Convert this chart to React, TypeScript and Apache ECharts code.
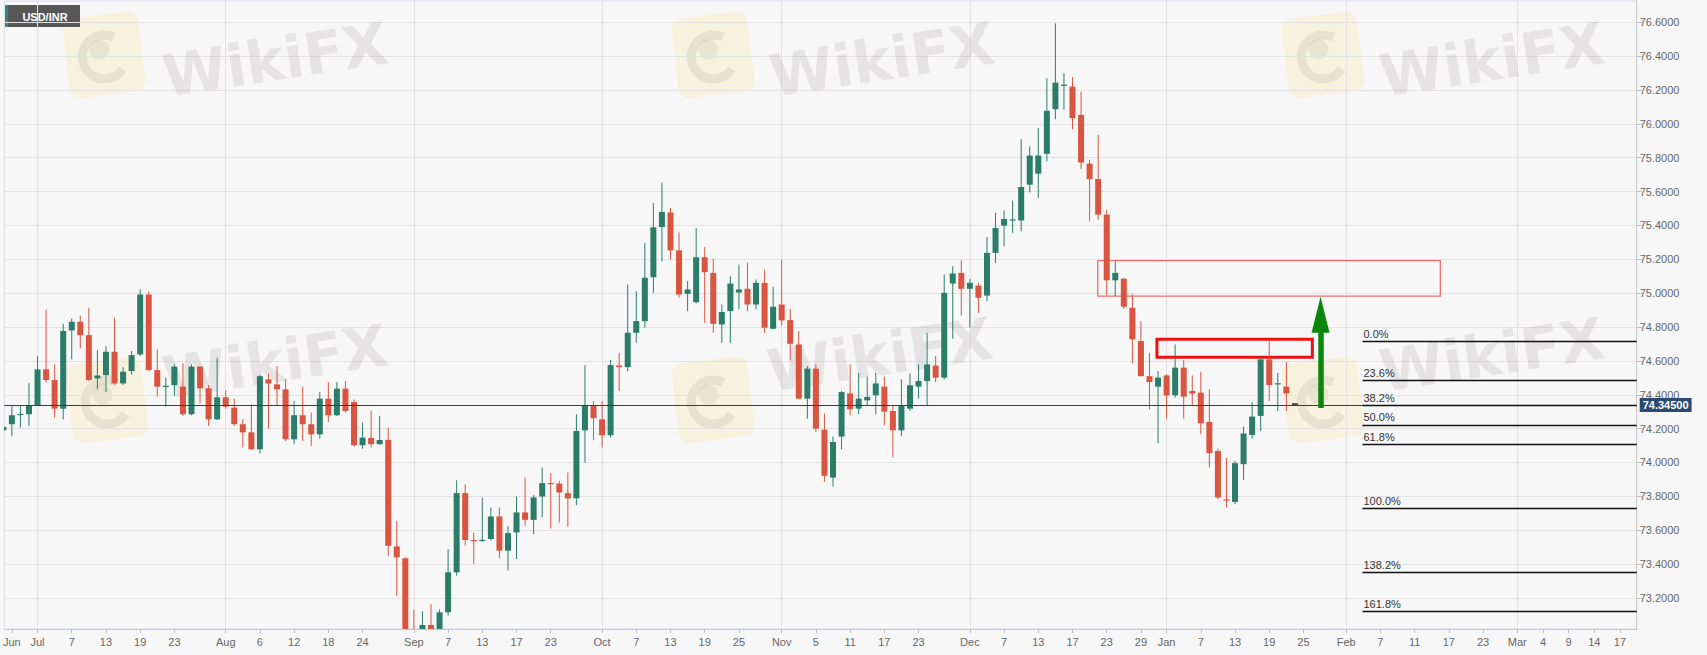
import React, { useEffect, useRef } from 'react';
import * as echarts from 'echarts';

// ---- categories (trading days) ----
const DATES = [
  '2021-06-25', '2021-06-28', '2021-06-29', '2021-06-30',
  '2021-07-01', '2021-07-02', '2021-07-05', '2021-07-06', '2021-07-07', '2021-07-08', '2021-07-09', '2021-07-12', '2021-07-13', '2021-07-14', '2021-07-15', '2021-07-16', '2021-07-19', '2021-07-20', '2021-07-21', '2021-07-22', '2021-07-23', '2021-07-26', '2021-07-27', '2021-07-28', '2021-07-29', '2021-07-30',
  '2021-08-02', '2021-08-03', '2021-08-04', '2021-08-05', '2021-08-06', '2021-08-09', '2021-08-10', '2021-08-11', '2021-08-12', '2021-08-13', '2021-08-16', '2021-08-17', '2021-08-18', '2021-08-19', '2021-08-20', '2021-08-23', '2021-08-24', '2021-08-25', '2021-08-26', '2021-08-27', '2021-08-30', '2021-08-31',
  '2021-09-01', '2021-09-02', '2021-09-03', '2021-09-06', '2021-09-07', '2021-09-08', '2021-09-09', '2021-09-10', '2021-09-13', '2021-09-14', '2021-09-15', '2021-09-16', '2021-09-17', '2021-09-20', '2021-09-21', '2021-09-22', '2021-09-23', '2021-09-24', '2021-09-27', '2021-09-28', '2021-09-29', '2021-09-30',
  '2021-10-01', '2021-10-04', '2021-10-05', '2021-10-06', '2021-10-07', '2021-10-08', '2021-10-11', '2021-10-12', '2021-10-13', '2021-10-14', '2021-10-15', '2021-10-18', '2021-10-19', '2021-10-20', '2021-10-21', '2021-10-22', '2021-10-25', '2021-10-26', '2021-10-27', '2021-10-28', '2021-10-29',
  '2021-11-01', '2021-11-02', '2021-11-03', '2021-11-04', '2021-11-05', '2021-11-08', '2021-11-09', '2021-11-10', '2021-11-11', '2021-11-12', '2021-11-15', '2021-11-16', '2021-11-17', '2021-11-18', '2021-11-19', '2021-11-22', '2021-11-23', '2021-11-24', '2021-11-25', '2021-11-26', '2021-11-29', '2021-11-30',
  '2021-12-01', '2021-12-02', '2021-12-03', '2021-12-06', '2021-12-07', '2021-12-08', '2021-12-09', '2021-12-10', '2021-12-13', '2021-12-14', '2021-12-15', '2021-12-16', '2021-12-17', '2021-12-20', '2021-12-21', '2021-12-22', '2021-12-23', '2021-12-24', '2021-12-27', '2021-12-28', '2021-12-29', '2021-12-30', '2021-12-31',
  '2022-01-03', '2022-01-04', '2022-01-05', '2022-01-06', '2022-01-07', '2022-01-10', '2022-01-11', '2022-01-12', '2022-01-13', '2022-01-14', '2022-01-17', '2022-01-18', '2022-01-19', '2022-01-20', '2022-01-21', '2022-01-24',
];

// ---- series values ----
const OPEN = [
  74.19, 74.226, 74.283, 74.285, 74.339, 74.55, 74.487, 74.318, 74.78, 74.831,
  74.752, 74.497, 74.516, 74.654, 74.467, 74.54, 74.638, 74.992, 74.546, 74.449,
  74.457, 74.448, 74.285, 74.566, 74.438, 74.255, 74.385, 74.324, 74.226, 74.178,
  74.078, 74.491, 74.461, 74.432, 74.137, 74.279, 74.226, 74.166, 74.377, 74.279,
  74.436, 74.357, 74.102, 74.145, 74.108, 74.133, 73.504, 73.434, 72.98, 72.97,
  73.04, 72.99, 73.115, 73.351, 73.819, 73.542, 73.536, 73.548, 73.681, 73.479,
  73.587, 73.705, 73.661, 73.799, 73.879, 73.875, 73.819, 73.788, 74.19, 74.334,
  74.255, 74.161, 74.573, 74.563, 74.766, 74.835, 75.094, 75.391, 75.477, 75.253,
  74.996, 74.947, 75.212, 75.12, 74.815, 74.894, 75.004, 75.026, 74.933, 75.061,
  74.79, 74.933, 74.841, 74.697, 74.377, 74.554, 74.194, 73.911, 74.153, 74.408,
  74.318, 74.367, 74.397, 74.448, 74.304, 74.19, 74.318, 74.448, 74.481, 74.573,
  74.501, 75.057, 75.12, 75.026, 75.045, 74.986, 75.238, 75.399, 75.432, 75.43,
  75.641, 75.706, 75.823, 76.087, 76.228, 76.22, 76.053, 75.765, 75.674, 75.464,
  75.076, 75.085, 74.914, 74.717, 74.51, 74.448, 74.514, 74.397, 74.56, 74.422,
  74.413, 74.24, 74.068, 73.782, 73.767, 73.99, 74.163, 74.275, 74.609, 74.464,
  74.448, 74.345,
];
const CLOSE = [
  74.21, 74.279, 74.287, 74.334, 74.55, 74.487, 74.318, 74.776, 74.831, 74.752,
  74.487, 74.514, 74.654, 74.467, 74.536, 74.634, 74.992, 74.546, 74.448, 74.453,
  74.566, 74.285, 74.566, 74.438, 74.255, 74.385, 74.33, 74.226, 74.178, 74.078,
  74.51, 74.466, 74.432, 74.137, 74.279, 74.226, 74.166, 74.377, 74.279, 74.436,
  74.304, 74.102, 74.147, 74.108, 74.133, 73.508, 73.44, 72.98, 72.96, 73.04,
  72.99, 73.115, 73.351, 73.819, 73.542, 73.538, 73.543, 73.681, 73.479, 73.583,
  73.705, 73.661, 73.793, 73.878, 73.876, 73.823, 73.788, 74.186, 74.334, 74.261,
  74.161, 74.575, 74.563, 74.766, 74.835, 75.091, 75.389, 75.48, 75.253, 74.992,
  75.022, 75.212, 75.124, 74.819, 74.889, 75.057, 75.022, 74.933, 75.061, 74.796,
  74.92, 74.839, 74.701, 74.377, 74.554, 74.2, 73.921, 74.121, 74.416, 74.314,
  74.377, 74.387, 74.467, 74.3, 74.19, 74.338, 74.456, 74.481, 74.579, 74.501,
  75.002, 75.116, 75.026, 75.061, 74.973, 75.238, 75.385, 75.438, 75.436, 75.627,
  75.813, 75.813, 76.077, 76.244, 76.232, 76.034, 75.772, 75.674, 75.464, 75.076,
  75.12, 74.92, 74.727, 74.51, 74.475, 74.501, 74.397, 74.56, 74.389, 74.407,
  74.231, 74.055, 73.793, 73.778, 73.996, 74.171, 74.271, 74.609, 74.457, 74.468,
  74.408, 74.345,
];
const LOW = [
  74.12, 74.155, 74.206, 74.216, 74.334, 74.471, 74.265, 74.255, 74.609, 74.674,
  74.481, 74.432, 74.416, 74.461, 74.456, 74.52, 74.628, 74.54, 74.389, 74.33,
  74.393, 74.275, 74.279, 74.349, 74.216, 74.251, 74.318, 74.216, 74.088, 74.075,
  74.053, 74.2, 74.334, 74.127, 74.108, 74.127, 74.098, 74.141, 74.239, 74.275,
  74.295, 74.094, 74.082, 74.088, 74.105, 73.449, 73.213, 72.95, 72.9, 72.92,
  72.95, 72.96, 73.095, 73.331, 73.508, 73.4, 73.53, 73.538, 73.434, 73.361,
  73.43, 73.626, 73.577, 73.676, 73.61, 73.646, 73.62, 73.748, 73.998, 74.131,
  74.088, 74.147, 74.422, 74.54, 74.707, 74.796, 75.002, 75.188, 75.198, 74.973,
  74.894, 74.939, 74.825, 74.766, 74.707, 74.707, 74.904, 74.894, 74.904, 74.766,
  74.785, 74.809, 74.603, 74.373, 74.259, 74.18, 73.885, 73.858, 74.078, 74.279,
  74.285, 74.334, 74.285, 74.22, 74.029, 74.157, 74.304, 74.377, 74.338, 74.475,
  74.491, 74.731, 74.868, 74.796, 74.884, 74.953, 75.179, 75.277, 75.356, 75.365,
  75.595, 75.562, 75.778, 76.028, 76.083, 75.969, 75.733, 75.424, 75.434, 74.986,
  74.982, 74.908, 74.585, 74.508, 74.314, 74.114, 74.259, 74.383, 74.259, 74.338,
  74.167, 73.97, 73.783, 73.734, 73.754, 73.897, 74.141, 74.186, 74.363, 74.304,
  74.304, 74.345,
];
const HIGH = [
  74.29, 74.332, 74.339, 74.471, 74.628, 74.904, 74.579, 74.819, 74.851, 74.868,
  74.914, 74.664, 74.687, 74.855, 74.563, 74.658, 75.022, 75.008, 74.668, 74.501,
  74.579, 74.585, 74.579, 74.57, 74.457, 74.619, 74.428, 74.377, 74.255, 74.343,
  74.516, 74.524, 74.569, 74.491, 74.363, 74.448, 74.295, 74.416, 74.475, 74.475,
  74.481, 74.373, 74.236, 74.308, 74.275, 74.206, 73.655, 73.44, 73.131, 73.121,
  73.164, 73.131, 73.489, 73.895, 73.872, 73.587, 73.793, 73.734, 73.734, 73.626,
  73.799, 73.911, 73.807, 73.97, 73.937, 73.891, 73.941, 74.285, 74.575, 74.363,
  74.363, 74.605, 74.648, 75.051, 75.012, 75.297, 75.533, 75.654, 75.503, 75.359,
  75.071, 75.385, 75.273, 75.203, 74.933, 75.1, 75.169, 75.179, 75.081, 75.139,
  75.037, 75.198, 74.908, 74.776, 74.569, 74.579, 74.289, 74.153, 74.422, 74.579,
  74.53, 74.507, 74.53, 74.507, 74.338, 74.491, 74.526, 74.579, 74.766, 74.628,
  75.11, 75.159, 75.194, 75.085, 75.061, 75.332, 75.474, 75.489, 75.546, 75.91,
  75.867, 75.975, 76.27, 76.594, 76.299, 76.276, 76.191, 75.788, 75.935, 75.493,
  75.188, 75.091, 74.992, 74.835, 74.648, 74.54, 74.52, 74.697, 74.605, 74.514,
  74.534, 74.432, 74.082, 74.029, 74.009, 74.212, 74.357, 74.625, 74.717, 74.53,
  74.593, 74.345,
];

// ---- axes / ticks ----
const X_TICK_IDX = [1, 4, 8, 12, 16, 20, 26, 30, 34, 38, 42, 48, 52, 56, 60, 64, 70, 74, 78, 82, 86, 91, 95, 99, 103, 107, 113, 117, 121, 125, 129, 133, 136, 140, 144, 148, 152, 157, 161, 165, 169, 173, 177, 180, 183, 186, 189];
const X_TICK_TEXT = ['Jun', 'Jul', '7', '13', '19', '23', 'Aug', '6', '12', '18', '24', 'Sep', '7', '13', '17', '23', 'Oct', '7', '13', '19', '25', 'Nov', '5', '11', '17', '23', 'Dec', '7', '13', '17', '23', '29', 'Jan', '7', '13', '19', '25', 'Feb', '7', '11', '17', '23', 'Mar', '4', '9', '14', '17'];
const MONTH_IDX = [4, 26, 48, 70, 91, 113, 136, 157, 177];
const Y_TICKS = [73.2, 73.4, 73.6, 73.8, 74.0, 74.2, 74.4, 74.6, 74.8, 75.0, 75.2, 75.4, 75.6, 75.8, 76.0, 76.2, 76.4, 76.6];
const X_MIN = 0.115;
const X_MAX = 190.96;
const Y_MIN = 73.0164;
const Y_MAX = 76.7258;

// ---- annotations ----
const PRICE = 74.345;
const FIB_LABELS = ['0.0%', '23.6%', '38.2%', '50.0%', '61.8%', '100.0%', '138.2%', '161.8%'];
const FIB_VALUES = [74.716, 74.483, 74.339, 74.2225, 74.106, 73.729, 73.352, 73.119];
const FIB_START = 158.9;
const THIN_ZONE_X = [127.95, 168.0];
const THIN_ZONE_Y = [75.192, 74.983];
const THICK_ZONE_X = [134.87, 153.04];
const THICK_ZONE_Y = [74.728, 74.621];
const ARROW_X = 154.0;
const ARROW_FROM = 74.322;
const ARROW_TO = 74.873;

const GREEN = '#2b7d69';
const RED = '#d9553f';
const FONT = 'Liberation Sans, Arial, sans-serif';

function watermark(cx: number, cy: number, tx: number, ty: number) {
  return [
    {
      type: 'group', x: cx, y: cy, rotation: 0.12, z: 1, silent: true,
      children: [
        { type: 'rect', shape: { x: -38, y: -40, width: 76, height: 80, r: 10 }, style: { fill: 'rgba(250,220,120,0.2)' } },
        { type: 'arc', shape: { cx: 0, cy: 2, r: 22, startAngle: 0.7, endAngle: 5.3 }, style: { stroke: 'rgba(150,140,140,0.16)', lineWidth: 9, fill: 'none' } },
        { type: 'circle', shape: { cx: -4, cy: -6, r: 10 }, style: { fill: 'rgba(150,140,140,0.14)' } },
      ],
    },
    {
      type: 'text', x: tx, y: ty, rotation: 0.15, z: 1, silent: true,
      style: { text: 'WikiFX', font: 'bold 58px DejaVu Sans', fill: 'rgba(150,140,140,0.18)', align: 'center', verticalAlign: 'middle' },
    },
  ];
}

export default function App() {
  const ref = useRef<HTMLDivElement>(null);
  useEffect(() => {
    if (!ref.current) return;
    const chart = echarts.init(ref.current, null, { renderer: 'svg' });
    const candleData = DATES.map((_, i) => [i, OPEN[i], CLOSE[i], LOW[i], HIGH[i]]);

    const option: any = {
      animation: false,
      backgroundColor: '#f7f7f7',
      grid: { left: 1, right: 70.3, top: 1, bottom: 26, show: true, backgroundColor: '#f7f7f7', borderColor: '#d9d9ee', borderWidth: 1 },
      xAxis: [
        {
          type: 'value', min: X_MIN, max: X_MAX,
          axisLine: { show: true, lineStyle: { color: '#c8c8c8' } },
          axisTick: { show: true, length: 4, lineStyle: { color: '#bdbdbd' }, customValues: X_TICK_IDX },
          axisLabel: {
            show: true, customValues: X_TICK_IDX, color: '#666', fontSize: 11, fontFamily: FONT, margin: 7,
            formatter: (v: number) => { const k = X_TICK_IDX.indexOf(Math.round(v)); return k >= 0 ? X_TICK_TEXT[k] : ''; },
          },
          splitLine: { show: false },
        },
        {
          type: 'value', min: X_MIN, max: X_MAX, position: 'bottom',
          axisLine: { show: false }, axisLabel: { show: false },
          axisTick: { show: false, customValues: MONTH_IDX },
          splitLine: { show: true, lineStyle: { color: '#e2e2e2', width: 1 } },
        },
      ],
      yAxis: {
        type: 'value', position: 'right', min: Y_MIN, max: Y_MAX,
        axisLine: { show: true, lineStyle: { color: '#c8c8c8' } },
        axisTick: { show: true, length: 5, lineStyle: { color: '#bdbdbd' }, customValues: Y_TICKS },
        axisLabel: { show: true, customValues: Y_TICKS, color: '#666', fontSize: 11, fontFamily: FONT, margin: 3, formatter: (v: number) => v.toFixed(4) },
        splitLine: { show: true, lineStyle: { color: '#e2e2e2', width: 1 } },
      },
      graphic: [
        ...watermark(104, 55, 275, 60),
        ...watermark(713, 55, 882, 60),
        ...watermark(1323, 55, 1492, 60),
        ...watermark(107, 400, 275, 362),
        ...watermark(713, 400, 880, 355),
        ...watermark(1323, 400, 1492, 355),
        {
          type: 'group', x: 5, y: 5, z: 100,
          children: [
            { type: 'rect', shape: { x: 0, y: 0, width: 75, height: 22 }, style: { fill: '#575757' } },
            { type: 'rect', shape: { x: 0, y: 0, width: 3, height: 22 }, style: { fill: '#2e8b6f' } },
            { type: 'text', x: 40, y: 11.5, style: { text: 'USD/INR', fill: '#ffffff', font: 'bold 11px Liberation Sans', align: 'center', verticalAlign: 'middle' } },
          ],
        },
      ],
      series: [
        {
          type: 'custom', name: 'USD/INR', clip: true, z: 3,
          data: candleData,
          encode: { x: 0, y: [1, 2, 3, 4] },
          renderItem: (params: any, api: any) => {
            const x = api.value(0);
            const o = api.value(1), c = api.value(2), l = api.value(3), h = api.value(4);
            const pO = api.coord([x, o]);
            const pC = api.coord([x, c]);
            const pL = api.coord([x, l]);
            const pH = api.coord([x, h]);
            const flat = h === l;
            const color = flat ? '#222' : (c >= o ? GREEN : RED);
            const w = 6;
            const top = Math.min(pO[1], pC[1]);
            const bh = Math.max(Math.abs(pO[1] - pC[1]), 1.2);
            const children: any[] = [];
            if (!flat) {
              children.push({ type: 'line', shape: { x1: pH[0], y1: pH[1], x2: pL[0], y2: pL[1] }, style: { stroke: color, lineWidth: 1 } });
            }
            children.push({ type: 'rect', shape: { x: pO[0] - w / 2, y: flat ? top - 0.75 : top, width: w, height: flat ? 1.5 : bh }, style: { fill: color } });
            return { type: 'group', children };
          },
        },
        {
          type: 'line', name: 'price', data: [], z: 4,
          markLine: {
            silent: true, symbol: ['none', 'none'], animation: false,
            lineStyle: { color: '#22406a', width: 1, type: 'solid' },
            label: { show: true, position: 'end', formatter: PRICE.toFixed(5), color: '#fff', fontWeight: 'bold', fontSize: 11, fontFamily: FONT, backgroundColor: '#2b4a70', padding: [2, 3, 1, 3], distance: 3 },
            data: [{ yAxis: PRICE }],
          },
        },
        {
          type: 'line', name: 'fib', data: [], z: 4,
          markLine: {
            silent: true, symbol: ['none', 'none'], animation: false,
            lineStyle: { color: '#111', width: 1.4, type: 'solid' },
            label: { show: true, position: 'insideStartTop', formatter: '{b}', color: '#333', fontSize: 11, fontFamily: FONT, distance: [1, 2] },
            data: FIB_VALUES.map((v, i) => [{ name: FIB_LABELS[i], coord: [FIB_START, v] }, { coord: [X_MAX, v] }]),
          },
        },
        {
          type: 'line', name: 'zoneThin', data: [], z: 4,
          markArea: {
            silent: true,
            itemStyle: { color: 'rgba(0,0,0,0)', borderColor: '#ef6f6f', borderWidth: 1.3 },
            data: [[{ coord: [THIN_ZONE_X[0], THIN_ZONE_Y[0]] }, { coord: [THIN_ZONE_X[1], THIN_ZONE_Y[1]] }]],
          },
        },
        {
          type: 'line', name: 'zoneThick', data: [], z: 4,
          markArea: {
            silent: true,
            itemStyle: { color: 'rgba(0,0,0,0)', borderColor: '#ee1111', borderWidth: 3 },
            data: [[{ coord: [THICK_ZONE_X[0], THICK_ZONE_Y[0]] }, { coord: [THICK_ZONE_X[1], THICK_ZONE_Y[1]] }]],
          },
        },
        {
          type: 'line', name: 'arrow', data: [], z: 5,
          markLine: {
            silent: true, animation: false,
            symbol: ['none', 'triangle'], symbolSize: [0, 18],
            lineStyle: { color: '#0a870a', width: 5.5, type: 'solid', opacity: 1 },
            itemStyle: { color: '#0a870a' },
            label: { show: false },
            data: [[{ coord: [ARROW_X, ARROW_FROM] }, { coord: [ARROW_X, ARROW_TO], symbol: 'triangle', symbolSize: [18, 36] }]],
          },
        },
      ],
    };
    chart.setOption(option);
    return () => chart.dispose();
  }, []);
  return <div ref={ref} style={{ position: 'fixed', left: 0, top: 0, width: 1707, height: 655 }} />;
}
